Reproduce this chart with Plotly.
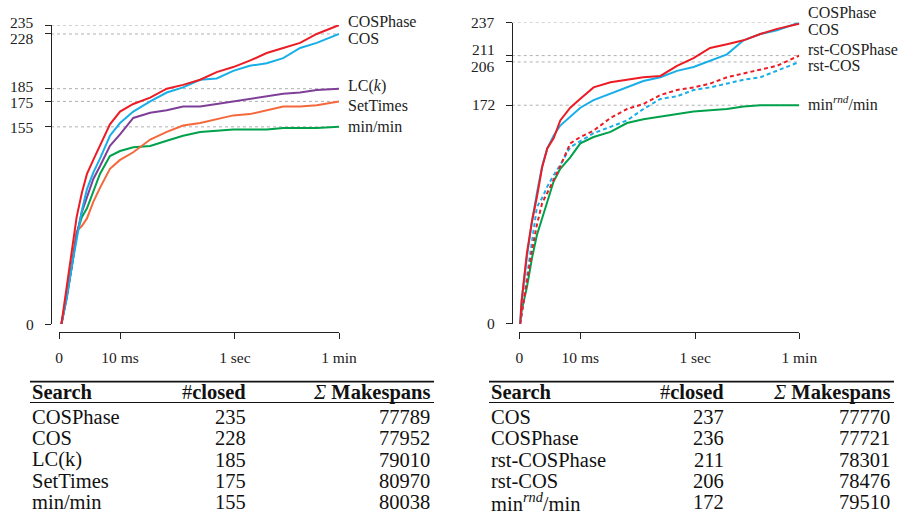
import numpy as np
import plotly.graph_objects as go

W, H = 907, 523
FONT = '"Liberation Serif", "Times New Roman", serif'

# ---------------- data ----------------
tick_times_ms = [0, 10, 1000, 60000]
tick_labels = ["0", "10 ms", "1 sec", "1 min"]

times_left_ms = [0.1, 0.35, 0.65, 1.0, 1.45, 2.0, 2.85, 4.0, 6.4, 10, 17.5, 35, 68,
                 130, 255, 490, 940, 1800, 3500, 6700, 13000, 25000, 60000]
cosphase_left = [0, 29, 57, 84, 103, 118, 129, 140, 157, 167, 173, 178, 185, 188, 192,
                 198, 202, 207, 213, 217, 221, 228, 235]
cos_left = [0, 20, 45, 67, 89, 106, 119, 130, 148, 158, 167, 175, 182, 186, 192, 193,
            199, 203, 205, 209, 217, 221, 228]
lck_left = [0, 20, 45, 70, 88, 100, 114, 124, 140, 149, 162, 166, 168, 171, 171, 173,
            175, 177, 179, 181, 182, 184, 185]
settimes_left = [0, 22, 47, 73, 77, 83, 96, 107, 122, 129, 135, 145, 151, 156, 158,
                 161, 164, 165, 168, 171, 171, 172, 175]
minmin_left = [0, 22, 45, 71, 84, 91, 105, 118, 132, 136, 139, 140, 144, 148, 151, 152,
               153, 153, 153, 154, 154, 154, 155]

times_right_ms = [0.03, 0.1, 0.35, 0.65, 1.0, 1.45, 2.0, 2.85, 4.0, 6.4, 10, 17.5, 35,
                  68, 130, 255, 490, 940, 1800, 3500, 6700, 13000, 25000, 60000]
cosphase_right = [0, 19, 56, 81, 100, 123, 138, 146, 160, 170, 177, 186, 190, 192, 194,
                  195, 203, 209, 217, 220, 223, 228, 232, 236]
cos_right = [0, 19, 53, 81, 103, 124, 138, 148, 156, 163, 170, 176, 181, 186, 191, 194,
             199, 202, 207, 212, 223, 228, 231, 237]
rst_cosphase_right = [0, 8, 35, 58, 78, 95, 103, 113, 124, 142, 147, 152, 162, 169, 173,
                      180, 184, 186, 189, 194, 197, 200, 203, 211]
rst_cos_right = [0, 8, 37, 67, 92, 99, 108, 117, 125, 139, 144, 150, 155, 160, 169, 177,
                 179, 184, 186, 189, 192, 194, 199, 206]
minrnd_right = [0, 11, 29, 52, 70, 83, 95, 112, 122, 131, 142, 147, 151, 158, 161, 163,
                165, 167, 168, 169, 171, 172, 172, 172]

left_yticks = [0, 155, 175, 185, 228, 235]
right_yticks = [0, 172, 206, 211, 237]

left_names = ["COSPhase", "COS", "LC(k)", "SetTimes", "min/min"]
left_closed = [235, 228, 185, 175, 155]
left_makespans = [77789, 77952, 79010, 80970, 80038]

right_names = ["COS", "COSPhase", "rst-COSPhase", "rst-COS", "min<sup><i>rnd</i></sup>/min"]
right_closed = [237, 236, 211, 206, 172]
right_makespans = [77770, 77721, 78301, 78476, 79510]

# ---------------- styling ----------------
RED = "#ec1c24"
CYAN = "#18aee8"
PURPLE = "#7f3f98"
ORANGE = "#f5683c"
GREEN = "#00a14b"


def px(x):
    return x / W


def py(y):
    return 1 - y / H


def tx(t):
    return np.log10(1 + np.asarray(t, dtype=float))


UMAX = float(tx(60000))

fig = go.Figure()

left_series = [
    ("min/min", minmin_left, GREEN, "solid", 0),
    ("SetTimes", settimes_left, ORANGE, "solid", -4),
    ("LC(<i>k</i>)", lck_left, PURPLE, "solid", 3),
    ("COS", cos_left, CYAN, "solid", -5),
    ("COSPhase", cosphase_left, RED, "solid", 4),
]
right_series = [
    ("min<sup><i>rnd</i></sup>/min", minrnd_right, GREEN, "solid", 2),
    ("rst-COS", rst_cos_right, CYAN, "4px,3px", -4),
    ("rst-COSPhase", rst_cosphase_right, RED, "4px,3px", 6.5),
    ("COS", cos_right, CYAN, "solid", -6.5),
    ("COSPhase", cosphase_right, RED, "solid", 11),
]

annotations = []
shapes = []

for (times, series, xa, ya) in [(times_left_ms, left_series, "x", "y"),
                                (times_right_ms, right_series, "x2", "y2")]:
    for name, vals, color, dash, yshift in series:
        fig.add_trace(go.Scatter(
            x=tx(times), y=vals, mode="lines", xaxis=xa, yaxis=ya,
            line=dict(color=color, width=2, dash=dash), cliponaxis=False,
            showlegend=False, name=name, hoverinfo="skip"))
        annotations.append(dict(
            x=UMAX, y=vals[-1], xref=xa, yref=ya, text=name, showarrow=False,
            xanchor="left", yanchor="middle", xshift=7, yshift=yshift,
            font=dict(family=FONT, size=16, color="#222")))

axis_common = dict(showgrid=False, zeroline=False, showline=True, linecolor="#222",
                   linewidth=1.3, ticks="outside", ticklen=6, tickwidth=1.3,
                   tickcolor="#222", anchor="free", automargin=False)

xaxis_common = dict(axis_common, range=[0, UMAX], tickvals=list(tx(tick_times_ms)),
                    ticktext=tick_labels, position=py(332),
                    tickfont=dict(family=FONT, size=15.5, color="#222"),
                    ticklabelstandoff=5)

fig.update_layout(
    template="none",
    width=W, height=H, autosize=False, margin=dict(l=0, r=0, t=0, b=0, pad=0),
    paper_bgcolor="white", plot_bgcolor="rgba(0,0,0,0)",
    font=dict(family=FONT),
    xaxis=dict(xaxis_common, domain=[px(59), px(339)]),
    xaxis2=dict(xaxis_common, domain=[px(519.3), px(799.3)]),
    yaxis=dict(axis_common, domain=[py(324), py(324 - 235 * 1.272)], range=[0, 235],
               tickvals=left_yticks, showticklabels=False, position=px(51)),
    yaxis2=dict(axis_common, domain=[py(324), py(324 - 237 * 1.272)], range=[0, 237],
                tickvals=right_yticks, showticklabels=False, position=px(511.7)),
)

# dotted grid lines + y tick labels
left_label_shift = {0: 0, 155: -1, 175: -1, 185: 2, 228: -5, 235: 3}
right_label_shift = {0: 0, 172: 1, 206: -5, 211: 6, 237: 0}
for ticks, shifts, ya, x0p in [(left_yticks, left_label_shift, "y", 51),
                               (right_yticks, right_label_shift, "y2", 511.7)]:
    for v in ticks:
        if v > 0:
            shapes.append(dict(type="line", xref="paper", yref=ya, x0=px(x0p),
                               x1=px(x0p + 288), y0=v, y1=v, layer="below",
                               line=dict(color="#b0b0b0", width=1, dash="dot")))
        annotations.append(dict(
            x=px(x0p), y=v, xref="paper", yref=ya, text=str(v), showarrow=False,
            xanchor="right", yanchor="middle", xshift=-15, yshift=shifts[v],
            font=dict(family=FONT, size=15.5, color="#222")))

# ---------------- tables ----------------
row_y = [417.3, 438.4, 459.5, 480.6, 501.7]
header_y = 392.3
TF = dict(family=FONT, size=20.5, color="#111")
for names, closed, spans, x_left, x_c1, x_c2, x_right in [
        (left_names, left_closed, left_makespans, 31, 247, 431, 434),
        (right_names, right_closed, right_makespans, 490, 725, 891, 894)]:
    shapes.append(dict(type="line", xref="paper", yref="paper", x0=px(x_left - 1),
                       x1=px(x_right), y0=py(381.7), y1=py(381.7),
                       line=dict(color="#111", width=1.8)))
    shapes.append(dict(type="line", xref="paper", yref="paper", x0=px(x_left - 1),
                       x1=px(x_right), y0=py(402.5), y1=py(402.5),
                       line=dict(color="#111", width=1)))
    headers = [("<b>Search</b>", x_left, "left"), ("#<b>closed</b>", x_c1, "right"),
               ("<i>Σ</i> <b>Makespans</b>", x_c2, "right")]
    for text, xx, anc in headers:
        annotations.append(dict(x=px(xx), y=py(header_y), xref="paper", yref="paper",
                                text=text, showarrow=False, xanchor=anc,
                                yanchor="middle", font=TF, borderpad=0))
    for i in range(len(names)):
        for text, xx, anc in [(names[i], x_left, "left"), (str(closed[i]), x_c1, "right"),
                              (str(spans[i]), x_c2, "right")]:
            annotations.append(dict(x=px(xx), y=py(row_y[i]), xref="paper",
                                    yref="paper", text=text, showarrow=False,
                                    xanchor=anc, yanchor="middle", font=TF,
                                    borderpad=0))

fig.update_layout(annotations=annotations, shapes=shapes)
fig.write_html("out.html",
               config={"displayModeBar": False, "responsive": False},
               post_script="document.body.style.margin='0px';"
                           "document.body.style.padding='0px';"
                           "document.body.style.overflow='hidden';")
